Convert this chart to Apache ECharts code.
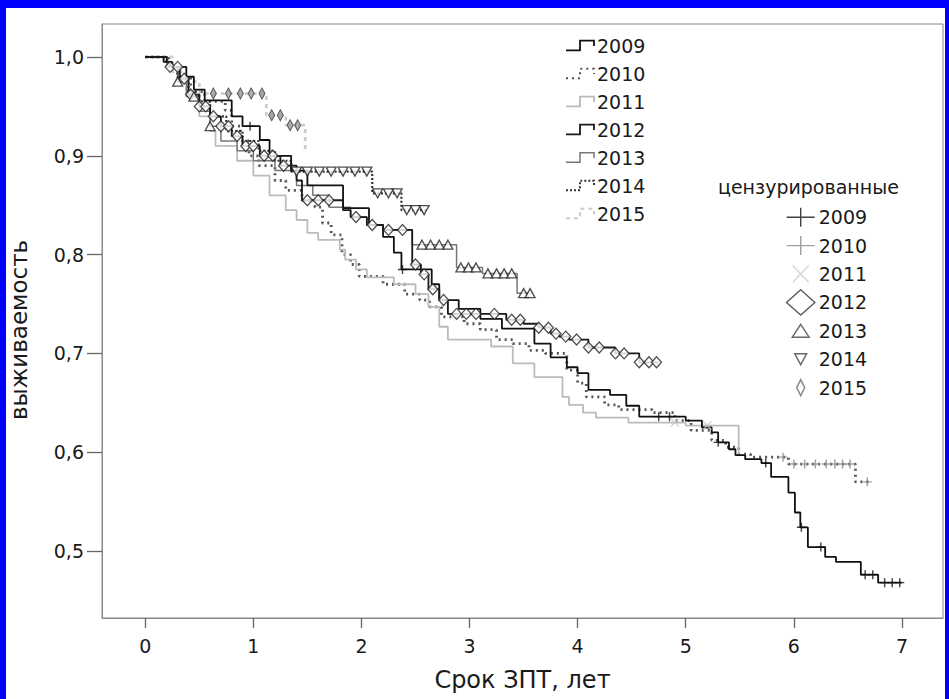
<!DOCTYPE html>
<html>
<head>
<meta charset="utf-8">
<script src="https://cdn.jsdelivr.net/npm/echarts@6/dist/echarts.min.js"></script>
<style>
html,body{margin:0;padding:0;background:#0000ff;width:949px;height:699px;overflow:hidden;}
#c{position:absolute;left:6px;top:8px;width:939px;height:691px;background:#ffffff;}
</style>
</head>
<body>
<div id="c"></div>
<script>
// ---- data (time in years, survival) ----
const years = ['2009','2010','2011','2012','2013','2014','2015'];
const xTicks = [0,1,2,3,4,5,6,7];
const yTicks = [0.5,0.6,0.7,0.8,0.9,1.0];

const km2009 = [[0,1],[0.17,0.995],[0.25,0.99],[0.38,0.98],[0.45,0.967],[0.55,0.956],[0.8,0.94],[0.9,0.93],[1.06,0.916],[1.15,0.9],[1.35,0.885],[1.5,0.87],[1.83,0.847],[2.07,0.83],[2.2,0.818],[2.3,0.802],[2.37,0.785],[2.65,0.77],[2.72,0.754],[2.9,0.745],[3.1,0.735],[3.3,0.725],[3.6,0.71],[3.75,0.696],[3.9,0.686],[4.0,0.68],[4.1,0.663],[4.3,0.658],[4.45,0.647],[4.57,0.636],[5.0,0.632],[5.15,0.625],[5.24,0.62],[5.3,0.61],[5.4,0.603],[5.46,0.597],[5.55,0.593],[5.7,0.589],[5.79,0.575],[5.95,0.559],[6.01,0.539],[6.06,0.524],[6.13,0.504],[6.29,0.494],[6.39,0.489],[6.62,0.476],[6.78,0.468],[7.0,0.468]];
const km2010 = [[0,1],[0.2,0.99],[0.3,0.98],[0.42,0.965],[0.55,0.955],[0.74,0.946],[0.8,0.93],[0.88,0.915],[0.96,0.9],[1.05,0.89],[1.2,0.875],[1.3,0.865],[1.45,0.855],[1.57,0.848],[1.64,0.832],[1.72,0.82],[1.82,0.8],[1.9,0.79],[1.98,0.778],[2.2,0.77],[2.4,0.76],[2.54,0.754],[2.63,0.747],[2.74,0.737],[2.95,0.73],[3.1,0.724],[3.25,0.714],[3.4,0.71],[3.55,0.703],[3.7,0.7],[3.9,0.683],[4.0,0.67],[4.08,0.656],[4.25,0.648],[4.38,0.643],[4.69,0.64],[4.9,0.632],[5.05,0.622],[5.24,0.612],[5.37,0.605],[5.49,0.598],[5.6,0.595],[5.95,0.588],[6.57,0.57],[6.7,0.57]];
const km2011 = [[0,1],[0.2,0.99],[0.3,0.975],[0.4,0.96],[0.5,0.94],[0.6,0.925],[0.65,0.91],[0.85,0.895],[1.0,0.88],[1.15,0.86],[1.3,0.845],[1.4,0.835],[1.5,0.822],[1.6,0.815],[1.8,0.805],[1.85,0.795],[1.95,0.785],[2.05,0.777],[2.3,0.77],[2.5,0.76],[2.62,0.747],[2.72,0.727],[2.8,0.714],[3.2,0.707],[3.4,0.69],[3.6,0.676],[3.86,0.656],[3.92,0.648],[4.05,0.64],[4.17,0.635],[4.47,0.63],[5.0,0.627],[5.49,0.597],[5.55,0.597]];
const km2012 = [[0,1],[0.2,0.995],[0.23,0.99],[0.32,0.978],[0.4,0.962],[0.5,0.95],[0.6,0.94],[0.7,0.93],[0.8,0.92],[0.9,0.91],[1.06,0.9],[1.25,0.89],[1.4,0.875],[1.45,0.855],[1.83,0.845],[1.9,0.838],[2.05,0.83],[2.2,0.825],[2.47,0.79],[2.55,0.78],[2.62,0.765],[2.72,0.754],[2.8,0.74],[3.34,0.734],[3.5,0.73],[3.64,0.726],[3.75,0.72],[3.83,0.717],[3.92,0.714],[4.1,0.706],[4.35,0.7],[4.57,0.691],[4.75,0.691]];
const km2013 = [[0,1],[0.2,0.99],[0.3,0.975],[0.38,0.96],[0.5,0.945],[0.6,0.93],[0.7,0.915],[0.85,0.905],[1.0,0.895],[1.2,0.885],[1.4,0.87],[1.55,0.86],[1.7,0.848],[1.9,0.838],[2.05,0.83],[2.2,0.825],[2.47,0.81],[2.88,0.787],[3.12,0.781],[3.44,0.761],[3.58,0.761]];
const km2014 = [[0,1],[0.22,0.99],[0.3,0.98],[0.4,0.965],[0.5,0.955],[0.6,0.94],[0.75,0.925],[0.9,0.915],[1.05,0.905],[1.2,0.895],[1.35,0.884],[2.1,0.862],[2.37,0.845],[2.6,0.845]];
const km2015 = [[0,1],[0.17,1],[0.25,0.985],[0.35,0.975],[0.5,0.963],[1.12,0.941],[1.3,0.931],[1.48,0.906],[1.5,0.906]];

// censored observation times
const cens2009 = [0.97,2.38,4.75,4.85,5.3,5.74,6.07,6.25,6.66,6.73,6.84,6.91,6.98];
const cens2010 = [5.9,6.0,6.1,6.2,6.3,6.38,6.45,6.52,6.68];
const cens2011 = [4.9,5.2];
const cens2012 = [0.23,0.3,0.36,0.42,0.5,0.56,0.63,0.7,0.77,0.85,0.93,1.0,1.1,1.18,1.28,1.5,1.6,1.7,1.95,2.1,2.25,2.38,2.5,2.58,2.66,2.76,2.88,2.97,3.06,3.23,3.39,3.47,3.64,3.73,3.8,3.89,3.99,4.1,4.2,4.35,4.43,4.57,4.66,4.73];
const cens2013 = [0.3,0.45,0.6,2.56,2.64,2.72,2.8,2.92,2.99,3.06,3.17,3.25,3.32,3.39,3.5,3.56];
const cens2014 = [1.4,1.5,1.61,1.72,1.83,1.94,2.05,2.15,2.25,2.33,2.42,2.5,2.58];
const cens2015 = [0.63,0.77,0.88,0.98,1.08,1.17,1.25,1.34,1.41];

// ---- build ----
const curves = [km2009,km2010,km2011,km2012,km2013,km2014,km2015];
const cens = [cens2009,cens2010,cens2011,cens2012,cens2013,cens2014,cens2015];
function atTime(curve,t){let v=curve[0][1];for(const p of curve){if(p[0]<=t)v=p[1];else break;}return v;}

const FONT = 'DejaVu Sans';
const lineStyles = [
  {color:'#111111',width:1.8,type:'solid'},
  {color:'#555555',width:2.8,type:[2,4]},
  {color:'#bbbbbb',width:1.8,type:'solid'},
  {color:'#1a1a1a',width:1.8,type:'solid'},
  {color:'#777777',width:1.5,type:'solid'},
  {color:'#333333',width:2.2,type:[2,2]},
  {color:'#cccccc',width:2.8,type:[4,4]}
];
const plusSym = 'path://M0,5 L10,5 M5,0 L5,10';
const crossSym = 'path://M0,0 L10,10 M10,0 L0,10';
const censStyle = [
  {symbol:plusSym,size:9,rot:0,item:{color:'transparent',borderColor:'#111',borderWidth:1.4}},
  {symbol:plusSym,size:9,rot:0,item:{color:'transparent',borderColor:'#888',borderWidth:1.4}},
  {symbol:crossSym,size:8,rot:0,item:{color:'transparent',borderColor:'#c8c8c8',borderWidth:1.4}},
  {symbol:'diamond',size:[10,11],rot:0,item:{color:'#ffffff',borderColor:'#222',borderWidth:1.3}},
  {symbol:'triangle',size:[10,9],rot:0,item:{color:'#ffffff',borderColor:'#222',borderWidth:1.3}},
  {symbol:'triangle',size:[10,9],rot:180,item:{color:'#ffffff',borderColor:'#222',borderWidth:1.3}},
  {symbol:'diamond',size:[6,11],rot:0,item:{color:'#999999',borderColor:'#333',borderWidth:1}}
];

const series = [];
years.forEach((y,i)=>{
  series.push({
    name:y,type:'line',step:'end',showSymbol:false,symbol:'none',
    data:curves[i],lineStyle:lineStyles[i],itemStyle:{color:lineStyles[i].color},
    z:2+(i===0||i===3?3:0),silent:true
  });
});
years.forEach((y,i)=>{
  const cs = censStyle[i];
  series.push({
    name:y+' ',type:'scatter',symbol:cs.symbol,symbolSize:cs.size,symbolRotate:cs.rot,
    data:cens[i].map(t=>[t,atTime(curves[i],t)]),itemStyle:cs.item,z:10,silent:true
  });
});

const stepIcon = 'path://M0,10 L13,10 L13,1 L26,1 L26,6';
const legIcons = [
  'path://M0,0 M30,27 M1,13.5 L29,13.5 M15,4 L15,23',
  'path://M0,0 M30,27 M1,13.5 L29,13.5 M15,4 L15,23',
  'path://M0,0 M30,27 M7,5 L23,22 M23,5 L7,22',
  'path://M0,0 M30,27 M15,0.8 L29.2,13.5 L15,26.2 L0.8,13.5 Z',
  'path://M0,0 M30,27 M15,7 L23.5,20 L6.5,20 Z',
  'path://M0,0 M30,27 M9,8 L21,8 L15,19 Z',
  'path://M0,0 M30,27 M15,5.5 L19,13.5 L15,21.5 L11,13.5 Z'
];
const legIconStyle = [
  {color:'transparent',borderColor:'#111',borderWidth:1.4},
  {color:'transparent',borderColor:'#888',borderWidth:1.4},
  {color:'transparent',borderColor:'#ccc',borderWidth:1.4},
  {color:'#ffffff',borderColor:'#333',borderWidth:1.4},
  {color:'#ffffff',borderColor:'#444',borderWidth:1.4},
  {color:'#ffffff',borderColor:'#444',borderWidth:1.4},
  {color:'#ffffff',borderColor:'#666',borderWidth:1.4}
];

const option = {
  animation:false,
  backgroundColor:'#ffffff',
  title:{text:'цензурированные',left:712,top:169,padding:0,
    textStyle:{fontFamily:FONT,fontSize:19,fontWeight:'normal',color:'#1a1a1a'}},
  grid:{left:96,top:16,right:2,bottom:81,show:true,borderColor:'#888',borderWidth:1,containLabel:false,outerBoundsMode:'none'},
  legend:[
    {orient:'vertical',left:559,top:28,padding:0,itemWidth:28,itemHeight:12,itemGap:9,selectedMode:false,
      textStyle:{fontFamily:FONT,fontSize:19,color:'#1a1a1a',padding:[0,0,0,-2]},
      data:years.map((y,i)=>({name:y,icon:stepIcon,itemStyle:{color:'transparent',borderColor:lineStyles[i].color,borderWidth:Math.min(lineStyles[i].width,2),borderType:lineStyles[i].type}}))},
    {orient:'vertical',left:779,top:195,padding:0,itemWidth:30,itemHeight:28,itemGap:0,selectedMode:false,
      formatter:n=>n.trim(),
      textStyle:{fontFamily:FONT,fontSize:19,color:'#1a1a1a',padding:[0,0,0,-2]},
      data:years.map((y,i)=>({name:y+' ',icon:legIcons[i],itemStyle:legIconStyle[i]}))}
  ],
  xAxis:{type:'value',min:-0.4,max:7.38,
    name:'Срок ЗПТ, лет',nameLocation:'middle',nameGap:50,
    nameTextStyle:{fontFamily:FONT,fontSize:24,color:'#1a1a1a'},
    axisLine:{show:true,onZero:false,lineStyle:{color:'#888',width:1}},
    axisTick:{show:true,length:10,customValues:xTicks,lineStyle:{color:'#666',width:1.3}},
    axisLabel:{customValues:xTicks,margin:18,fontFamily:FONT,fontSize:19,color:'#1a1a1a'},
    splitLine:{show:false}},
  yAxis:{type:'value',min:0.4322,max:1.0334,
    name:'выживаемость',nameLocation:'middle',nameGap:72,nameRotate:90,
    nameTextStyle:{fontFamily:FONT,fontSize:23,color:'#1a1a1a',padding:[0,0,0,-18]},
    axisLine:{show:true,onZero:false,lineStyle:{color:'#888',width:1}},
    axisTick:{show:true,length:15,customValues:yTicks,lineStyle:{color:'#666',width:1.3}},
    axisLabel:{customValues:yTicks,margin:18,fontFamily:FONT,fontSize:19,color:'#1a1a1a',
      formatter:v=>v.toFixed(1).replace('.',',')},
    splitLine:{show:false}},
  series:series
};
const chart = echarts.init(document.getElementById('c'),null,{renderer:'svg'});
chart.setOption(option);
</script>
</body>
</html>
